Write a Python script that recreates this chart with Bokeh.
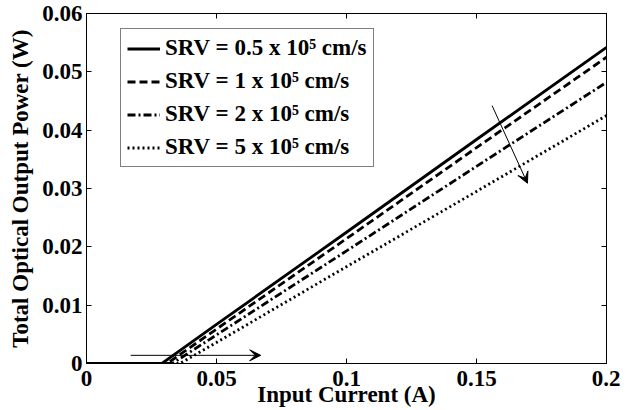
from bokeh.plotting import figure
from bokeh.models import LinearAxis, Legend, LegendItem, Arrow, VeeHead, FixedTicker, Range1d
from bokeh.embed import file_html
from bokeh.resources import INLINE

# ---- data ----
current_srv05 = [0.0, 0.029, 0.05, 0.10, 0.15, 0.20]
power_srv05 = [0.0, 0.0, 0.0067, 0.0225, 0.0384, 0.0542]
current_srv1 = [0.0, 0.031, 0.05, 0.10, 0.15, 0.20]
power_srv1 = [0.0, 0.0, 0.0059, 0.0214, 0.0370, 0.0525]
current_srv2 = [0.0, 0.033, 0.05, 0.10, 0.15, 0.20]
power_srv2 = [0.0, 0.0, 0.0049, 0.0193, 0.0338, 0.0482]
current_srv5 = [0.0, 0.036, 0.05, 0.10, 0.15, 0.20]
power_srv5 = [0.0, 0.0, 0.0036, 0.0166, 0.0295, 0.0425]

labels = ["SRV = 0.5 x 10\u2075 cm/s", "SRV = 1 x 10\u2075 cm/s",
          "SRV = 2 x 10\u2075 cm/s", "SRV = 5 x 10\u2075 cm/s"]

x_ticks = [0, 0.05, 0.1, 0.15, 0.2]
x_tick_labels = ["0", "0.05", "0.1", "0.15", "0.2"]
y_ticks = [0, 0.01, 0.02, 0.03, 0.04, 0.05, 0.06]
y_tick_labels = ["0", "0.01", "0.02", "0.03", "0.04", "0.05", "0.06"]

# arrows: [x_start, y_start, x_end, y_end]
arrow_threshold = [0.017, 0.0014, 0.067, 0.0014]
arrow_slope = [0.156, 0.0442, 0.1696, 0.0309]

FONT = "Liberation Serif"
FS = "23px"

p = figure(frame_width=520, frame_height=350, output_backend="svg", toolbar_location=None,
           x_range=Range1d(0, 0.2), y_range=Range1d(0, 0.06),
           min_border_left=86, min_border_right=14, min_border_top=13, min_border_bottom=46)
p.grid.visible = False
p.outline_line_color = "black"
p.outline_line_width = 1

for ax in (p.xaxis[0], p.yaxis[0]):
    ax.major_label_text_font = FONT
    ax.major_label_text_font_style = "bold"
    ax.major_label_text_font_size = FS
    ax.axis_label_text_font = FONT
    ax.axis_label_text_font_style = "bold"
    ax.axis_label_text_font_size = FS
    ax.major_tick_in = 5
    ax.major_tick_out = 0
    ax.minor_tick_in = 0
    ax.minor_tick_out = 0
    ax.axis_line_color = "black"
    ax.major_label_text_color = "black"
    ax.axis_label_text_color = "black"

p.xaxis[0].ticker = FixedTicker(ticks=x_ticks)
p.xaxis[0].major_label_overrides = dict(zip(x_ticks, x_tick_labels))
p.yaxis[0].ticker = FixedTicker(ticks=y_ticks)
p.yaxis[0].major_label_overrides = dict(zip(y_ticks, y_tick_labels))
p.xaxis[0].axis_label = "Input Current (A)"
p.yaxis[0].axis_label = "Total Optical Output Power (W)"
p.xaxis[0].major_label_standoff = 7
p.xaxis[0].axis_label_standoff = -7
p.yaxis[0].major_label_standoff = 4
p.yaxis[0].axis_label_standoff = 6

top = LinearAxis(ticker=FixedTicker(ticks=x_ticks), major_label_text_font_size="0px",
                 major_tick_in=5, major_tick_out=0, minor_tick_in=0, minor_tick_out=0,
                 major_label_standoff=0)
right = LinearAxis(ticker=FixedTicker(ticks=y_ticks), major_label_text_font_size="0px",
                   major_tick_in=5, major_tick_out=0, minor_tick_in=0, minor_tick_out=0,
                   major_label_standoff=0)
p.add_layout(top, "above")
p.add_layout(right, "right")

r1 = p.line(current_srv05, power_srv05, line_color="black", line_width=2.8)
r2 = p.line(current_srv1, power_srv1, line_color="black", line_width=2.8, line_dash="8 4")
r3 = p.line(current_srv2, power_srv2, line_color="black", line_width=2.8, line_dash="8 3 2 3")
r4 = p.line(current_srv5, power_srv5, line_color="black", line_width=2.8, line_dash="2 3")

for a in (arrow_threshold, arrow_slope):
    p.add_layout(Arrow(end=VeeHead(size=11, line_color="black", fill_color="black", line_width=1),
                       x_start=a[0], y_start=a[1], x_end=a[2], y_end=a[3],
                       line_color="black", line_width=1))

legend = Legend(items=[LegendItem(label=l, renderers=[r]) for l, r in zip(labels, [r1, r2, r3, r4])],
                location=(34, 196), label_text_font=FONT, label_text_font_style="bold",
                label_text_font_size=FS, label_text_color="black",
                glyph_width=33, glyph_height=21, label_height=21,
                label_standoff=5, spacing=7, padding=6, margin=0,
                border_line_color="black", border_line_width=1, background_fill_alpha=1)
p.add_layout(legend, "center")

open("out.html", "w").write(file_html(p, INLINE))
